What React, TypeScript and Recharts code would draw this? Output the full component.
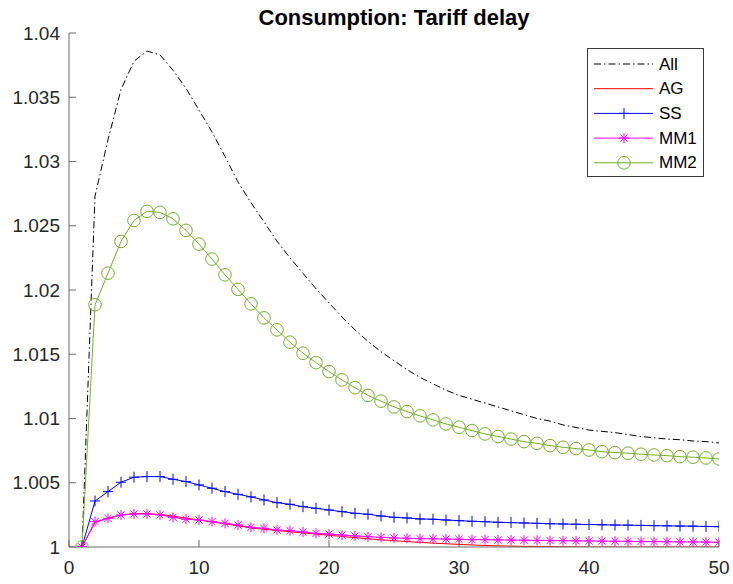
import { LineChart, Line, XAxis, YAxis } from 'recharts';

const periods = [
  1, 2, 3, 4, 5, 6, 7, 8, 9, 10, 11, 12, 13, 14, 15, 16, 17, 18, 19, 20, 21, 22, 23, 24, 25,
  26, 27, 28, 29, 30, 31, 32, 33, 34, 35, 36, 37, 38, 39, 40, 41, 42, 43, 44, 45, 46, 47, 48, 49, 50,
];

const allSeries = [
  1.0, 1.0273, 1.0317, 1.0356, 1.0378, 1.0386, 1.0383, 1.0371, 1.0357, 1.034,
  1.0323, 1.0304, 1.0284, 1.0268, 1.0253, 1.0238, 1.0225, 1.0213, 1.0201, 1.019,
  1.0179, 1.0169, 1.016, 1.0152, 1.0145, 1.0138, 1.0132, 1.0127, 1.0122, 1.0118,
  1.0115, 1.0112, 1.0109, 1.0106, 1.0103, 1.01, 1.0098, 1.0095, 1.0093, 1.0091,
  1.009, 1.0089, 1.00875, 1.0086, 1.0085, 1.0084, 1.00835, 1.00825, 1.0082, 1.0081,
];

const agSeries = [
  1.0, 1.0019, 1.00225, 1.0025, 1.0026, 1.0026, 1.00253, 1.0024, 1.00225, 1.0021,
  1.00195, 1.0018, 1.00165, 1.00148, 1.00138, 1.00128, 1.00119, 1.0011, 1.001, 1.00091,
  1.00082, 1.00073, 1.00064, 1.00056, 1.00049, 1.00042, 1.00036, 1.0003, 1.00025, 1.0002,
  1.00016, 1.00012, 1.00009, 1.00007, 1.00005, 1.00004, 1.00003, 1.00002, 1.00001, 1.0,
  1.0, 1.0, 1.0, 1.0, 1.0, 1.0, 1.0, 1.0, 1.0, 1.0,
];

const ssSeries = [
  1.0, 1.00358, 1.00431, 1.00504, 1.00543, 1.00548, 1.00548, 1.00527, 1.00509, 1.00483,
  1.00457, 1.00431, 1.0041, 1.0039, 1.00366, 1.00345, 1.00332, 1.00314, 1.00301, 1.00288,
  1.00275, 1.00262, 1.00255, 1.00241, 1.00231, 1.00226, 1.00218, 1.00216, 1.0021, 1.00205,
  1.002, 1.00197, 1.00192, 1.0019, 1.00187, 1.00184, 1.00181, 1.00179, 1.00177, 1.00175,
  1.00173, 1.00171, 1.0017, 1.00168, 1.00166, 1.00165, 1.00163, 1.00162, 1.0016, 1.00158,
];

const mm1Series = [
  1.0, 1.00197, 1.00223, 1.00249, 1.00257, 1.00257, 1.0025, 1.00231, 1.00216, 1.0021,
  1.00197, 1.00184, 1.00171, 1.00153, 1.00145, 1.00132, 1.00127, 1.00117, 1.00106, 1.00101,
  1.00093, 1.00086, 1.0008, 1.00075, 1.0007, 1.00068, 1.00065, 1.00064, 1.00062, 1.0006,
  1.00057, 1.00057, 1.00055, 1.00054, 1.00053, 1.00051, 1.0005, 1.00049, 1.00048, 1.00047,
  1.00046, 1.00045, 1.00044, 1.00043, 1.00042, 1.00041, 1.0004, 1.00039, 1.00038, 1.00037,
];

const mm2Series = [
  1.0, 1.01885, 1.02131, 1.02378, 1.02541, 1.02612, 1.02604, 1.02554, 1.02464, 1.02357,
  1.02241, 1.02118, 1.02005, 1.01892, 1.01783, 1.0169, 1.01594, 1.01508, 1.01435, 1.01365,
  1.013, 1.0124, 1.0118, 1.01135, 1.0109, 1.01054, 1.0102, 1.00989, 1.00958, 1.00932,
  1.00906, 1.0088, 1.0086, 1.0084, 1.0082, 1.00807, 1.00789, 1.00776, 1.00766, 1.00755,
  1.00742, 1.00735, 1.0073, 1.00722, 1.00716, 1.00711, 1.00703, 1.00699, 1.00693, 1.00685,
];

const xTicks = [0, 10, 20, 30, 40, 50];
const yTicks = [1, 1.005, 1.01, 1.015, 1.02, 1.025, 1.03, 1.035, 1.04];
const yTickLabels = ['1', '1.005', '1.01', '1.015', '1.02', '1.025', '1.03', '1.035', '1.04'];

const chartData = periods.map((period, i) => ({
  period,
  All: allSeries[i],
  AG: agSeries[i],
  SS: ssSeries[i],
  MM1: mm1Series[i],
  MM2: mm2Series[i],
}));

const FONT = '"Liberation Sans", Arial, Helvetica, sans-serif';
const AXIS = '#6b6b6b';
const GREEN = '#77ac30';
const DASHDOT = '7 3 1.5 3';
const X_GAP = 14;
const Y_GAP = 9;
const TICK_LEN = 7;

// MATLAB-style ticks point into the plot, so draw the mark with the label
const XTick = ({ x, y, payload }: any) => (
  <g>
    <line x1={x} x2={x} y1={y - X_GAP} y2={y - X_GAP - TICK_LEN} stroke={AXIS} strokeWidth={1} />
    <text x={x} y={y} dy="0.71em" textAnchor="middle" fontSize={19} fontFamily={FONT} fill="#262626">
      {payload.value}
    </text>
  </g>
);

const YTick = ({ x, y, payload }: any) => (
  <g>
    <line x1={x + Y_GAP} x2={x + Y_GAP + TICK_LEN} y1={y} y2={y} stroke={AXIS} strokeWidth={1} />
    <text x={x} y={y} dy="0.355em" textAnchor="end" fontSize={19} fontFamily={FONT} fill="#262626">
      {yTickLabels[yTicks.indexOf(payload.value)] ?? String(payload.value)}
    </text>
  </g>
);

const Plus = ({ cx, cy, color }: { cx: number; cy: number; color: string }) => (
  <path d={`M${cx - 5},${cy}H${cx + 5}M${cx},${cy - 5.5}V${cy + 5.5}`} stroke={color} strokeWidth={1} fill="none" />
);

const Star = ({ cx, cy, color }: { cx: number; cy: number; color: string }) => (
  <path
    d={`M${cx - 5},${cy}H${cx + 5}M${cx},${cy - 5}V${cy + 5}M${cx - 3.6},${cy - 3.6}L${cx + 3.6},${cy + 3.6}M${cx - 3.6},${cy + 3.6}L${cx + 3.6},${cy - 3.6}`}
    stroke={color}
    strokeWidth={1}
    fill="none"
  />
);

const Ring = ({ cx, cy, color }: { cx: number; cy: number; color: string }) => (
  <circle cx={cx} cy={cy} r={6.3} stroke={color} strokeWidth={1} fill="none" />
);

const legendItems = [
  { name: 'All', color: '#000000', dash: DASHDOT, marker: null },
  { name: 'AG', color: '#ff0000', dash: undefined, marker: null },
  { name: 'SS', color: '#0000ff', dash: undefined, marker: 'plus' },
  { name: 'MM1', color: '#ff00ff', dash: undefined, marker: 'star' },
  { name: 'MM2', color: GREEN, dash: undefined, marker: 'ring' },
];

function LegendBox() {
  return (
    <svg
      width={117}
      height={129}
      style={{ position: 'absolute', left: 587, top: 48, background: '#fff', border: '1px solid #3a3a3a', boxSizing: 'border-box' }}
    >
      {legendItems.map((item, i) => {
        const y = 15 + i * 24.7;
        return (
          <g key={item.name}>
            <line x1={6} x2={65} y1={y} y2={y} stroke={item.color} strokeWidth={1} strokeDasharray={item.dash} />
            {item.marker === 'plus' && <Plus cx={36} cy={y} color={item.color} />}
            {item.marker === 'star' && <Star cx={36} cy={y} color={item.color} />}
            {item.marker === 'ring' && <Ring cx={36} cy={y} color={item.color} />}
            <text x={71} y={y} dominantBaseline="central" fontSize={17} fontFamily={FONT} fill="#000">
              {item.name}
            </text>
          </g>
        );
      })}
    </svg>
  );
}

export default function App() {
  return (
    <div style={{ position: 'absolute', left: 0, top: 0, width: 733, height: 584, background: '#fff' }}>
      <div
        style={{
          position: 'absolute',
          left: 69,
          top: 6,
          width: 650,
          textAlign: 'center',
          fontFamily: FONT,
          fontWeight: 'bold',
          fontSize: 22,
          lineHeight: '24px',
          color: '#000',
        }}
      >
        Consumption: Tariff delay
      </div>
      <LineChart width={733} height={584} data={chartData} margin={{ top: 33, right: 14, bottom: 0, left: 0 }}>
        <XAxis
          dataKey="period"
          type="number"
          domain={[0, 50]}
          ticks={xTicks}
          allowDataOverflow
          height={37}
          stroke={AXIS}
          tickLine={false}
          tickSize={0}
          tickMargin={X_GAP}
          tick={<XTick />}
        />
        <YAxis
          type="number"
          domain={[1, 1.04]}
          ticks={yTicks}
          allowDataOverflow
          width={69}
          stroke={AXIS}
          tickLine={false}
          tickSize={0}
          tickMargin={Y_GAP}
          tick={<YTick />}
        />
        <Line
          dataKey="All"
          stroke="#000000"
          strokeWidth={1}
          strokeDasharray={DASHDOT}
          dot={false}
          activeDot={false}
          isAnimationActive={false}
        />
        <Line dataKey="AG" stroke="#ff0000" strokeWidth={1} dot={false} activeDot={false} isAnimationActive={false} />
        <Line
          dataKey="SS"
          stroke="#0000ff"
          strokeWidth={1}
          dot={(p: any) => <Plus key={`ss-${p.index}`} cx={p.cx} cy={p.cy} color="#0000ff" />}
          activeDot={false}
          isAnimationActive={false}
        />
        <Line
          dataKey="MM1"
          stroke="#ff00ff"
          strokeWidth={1}
          dot={(p: any) => <Star key={`mm1-${p.index}`} cx={p.cx} cy={p.cy} color="#ff00ff" />}
          activeDot={false}
          isAnimationActive={false}
        />
        <Line
          dataKey="MM2"
          stroke={GREEN}
          strokeWidth={1}
          dot={(p: any) => <Ring key={`mm2-${p.index}`} cx={p.cx} cy={p.cy} color={GREEN} />}
          activeDot={false}
          isAnimationActive={false}
        />
      </LineChart>
      <LegendBox />
    </div>
  );
}
